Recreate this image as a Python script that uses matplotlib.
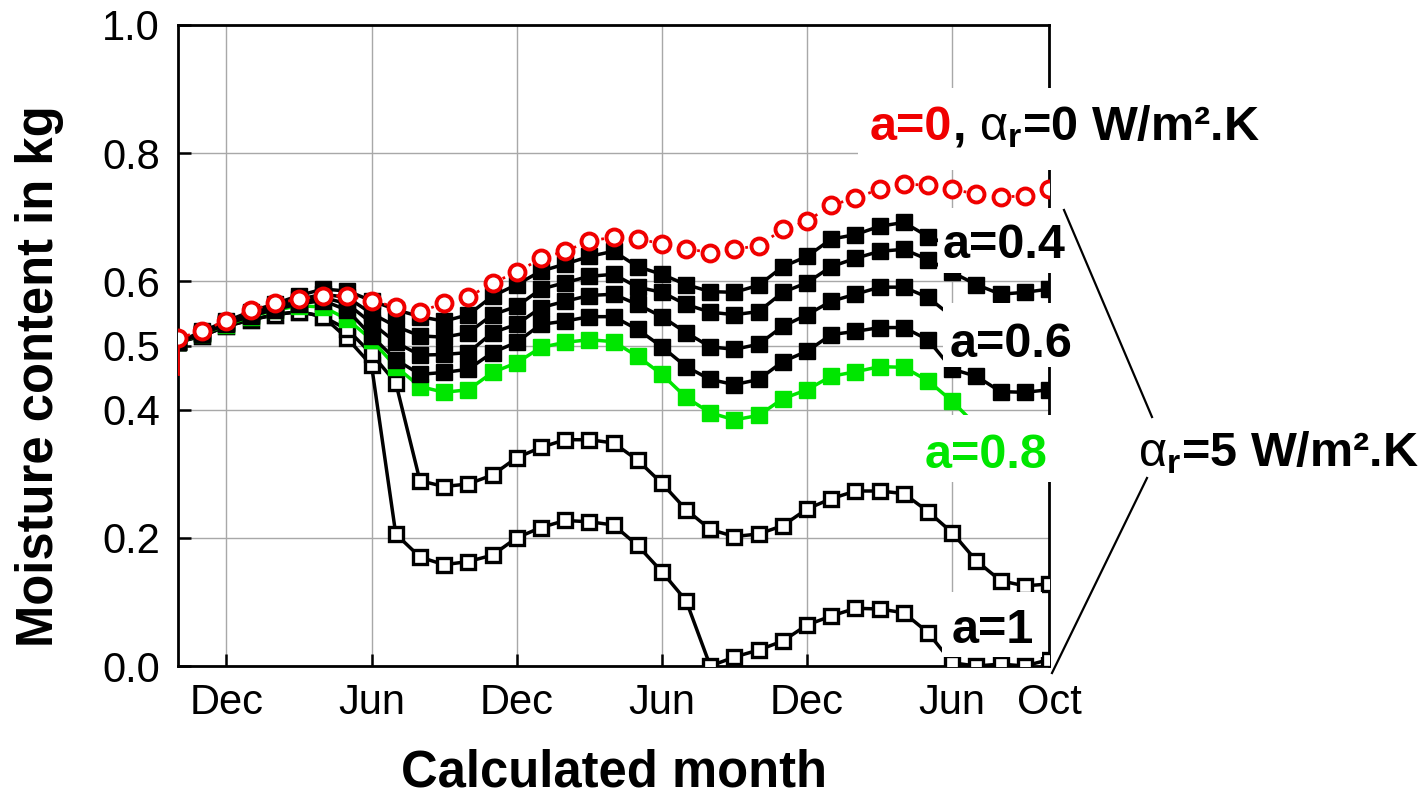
import numpy as np
import matplotlib
matplotlib.use("Agg")
import matplotlib.pyplot as plt
from matplotlib.patches import Rectangle
from matplotlib.lines import Line2D

# ---------------- data ----------------
months = np.arange(37)  # calculated months, starting in October
tick_months = [2, 8, 14, 20, 26, 32, 36]
tick_labels = ["Dec", "Jun", "Dec", "Jun", "Dec", "Jun", "Oct"]
y_ticks = [0.0, 0.2, 0.4, 0.5, 0.6, 0.8, 1.0]

initial_moisture = 0.455

# a=0, alpha_r=0 W/m2.K
red_series = [0.511, 0.523, 0.539, 0.555, 0.566, 0.572, 0.578, 0.577, 0.570, 0.560,
              0.553, 0.566, 0.575, 0.598, 0.614, 0.636, 0.647, 0.663, 0.669, 0.666,
              0.659, 0.651, 0.645, 0.650, 0.656, 0.681, 0.694, 0.719, 0.730, 0.744,
              0.752, 0.750, 0.744, 0.736, 0.731, 0.734, 0.744]

# alpha_r=5 W/m2.K, filled black squares (top to bottom)
filled_1 = [0.505, 0.522, 0.538, 0.553, 0.565, 0.578, 0.588, 0.585, 0.570, 0.556,
            0.545, 0.538, 0.548, 0.577, 0.595, 0.616, 0.627, 0.639, 0.647, 0.623,
            0.611, 0.595, 0.584, 0.583, 0.594, 0.623, 0.639, 0.666, 0.673, 0.686,
            0.692, 0.670, 0.655, 0.640, 0.632, 0.630, 0.635]
filled_2 = [0.505, 0.520, 0.535, 0.550, 0.562, 0.572, 0.580, 0.575, 0.550, 0.530,
            0.515, 0.513, 0.520, 0.548, 0.561, 0.588, 0.598, 0.608, 0.611, 0.591,
            0.583, 0.564, 0.552, 0.548, 0.553, 0.583, 0.598, 0.623, 0.636, 0.647,
            0.650, 0.634, 0.614, 0.595, 0.580, 0.583, 0.588]
filled_3 = [0.505, 0.520, 0.535, 0.548, 0.558, 0.568, 0.575, 0.565, 0.535, 0.505,
            0.485, 0.486, 0.489, 0.520, 0.533, 0.559, 0.569, 0.578, 0.580, 0.564,
            0.545, 0.520, 0.498, 0.494, 0.502, 0.530, 0.548, 0.569, 0.580, 0.591,
            0.591, 0.575, 0.545, 0.520, 0.505, 0.503, 0.508]
filled_4 = [0.505, 0.518, 0.533, 0.546, 0.556, 0.565, 0.570, 0.555, 0.515, 0.478,
            0.455, 0.458, 0.463, 0.489, 0.505, 0.533, 0.538, 0.545, 0.545, 0.525,
            0.498, 0.467, 0.447, 0.439, 0.447, 0.475, 0.491, 0.517, 0.522, 0.528,
            0.528, 0.509, 0.463, 0.452, 0.428, 0.427, 0.431]

# a=0.8 (green)
green_series = [0.505, 0.518, 0.532, 0.545, 0.555, 0.562, 0.560, 0.541, 0.509, 0.467,
                0.436, 0.427, 0.431, 0.458, 0.473, 0.497, 0.505, 0.509, 0.506, 0.483,
                0.455, 0.419, 0.395, 0.384, 0.391, 0.417, 0.431, 0.452, 0.459, 0.467,
                0.466, 0.445, 0.413, 0.375, 0.345, 0.335, 0.335]

# open squares
open_1 = [0.505, 0.515, 0.530, 0.540, 0.548, 0.553, 0.545, 0.525, 0.487, 0.442,
          0.289, 0.280, 0.284, 0.298, 0.325, 0.341, 0.353, 0.353, 0.348, 0.321,
          0.285, 0.244, 0.213, 0.202, 0.206, 0.219, 0.245, 0.261, 0.273, 0.273,
          0.269, 0.241, 0.208, 0.164, 0.133, 0.125, 0.128]
open_2 = [0.505, 0.515, 0.530, 0.540, 0.548, 0.553, 0.545, 0.511, 0.469, 0.206,
          0.170, 0.158, 0.163, 0.173, 0.200, 0.216, 0.227, 0.225, 0.220, 0.188,
          0.147, 0.102, 0.000, 0.014, 0.025, 0.039, 0.064, 0.078, 0.090, 0.089,
          0.083, 0.052, 0.005, 0.000, 0.003, 0.000, 0.010]

# ---------------- style ----------------
plt.rcParams["font.family"] = ["Liberation Sans", "DejaVu Sans"]
plt.rcParams["mathtext.fontset"] = "custom"
plt.rcParams["mathtext.rm"] = "Liberation Sans"
plt.rcParams["mathtext.it"] = "Liberation Sans:italic"
plt.rcParams["mathtext.bf"] = "Liberation Sans:bold"

RED = "#f00000"
GREEN = "#00e600"

W, H = 1427, 795
fig = plt.figure(figsize=(W / 100, H / 100), dpi=100)
ax = fig.add_axes([178 / W, 1 - 666 / H, (1049 - 178) / W, (666 - 25) / H])


def fx(x):
    return x / W


def fy(y):
    return 1 - y / H


# series
ax.plot(months, open_2, color="black", lw=2.5, marker="s", ms=9.5,
        mfc="white", mec="black", mew=2.4, zorder=3)
ax.plot(months, open_1, color="black", lw=2.5, marker="s", ms=9.5,
        mfc="white", mec="black", mew=2.4, zorder=3)
ax.plot(months, green_series, color=GREEN, lw=2.5, marker="s", ms=11,
        mfc=GREEN, mec=GREEN, zorder=3.2)
for s in (filled_4, filled_3, filled_2, filled_1):
    ax.plot(months, s, color="black", lw=2.5, marker="s", ms=11,
            mfc="black", mec="black", zorder=3.4)
ax.plot([0, 0], [initial_moisture, red_series[0]], color=RED, lw=2.0, zorder=3.5)
ax.plot(months, red_series, color=RED, lw=2.0, ls=(0, (1, 2.5)), marker="o",
        ms=11.5, mfc="white", mec=RED, mew=2.8, zorder=3.6)

# axes
ax.set_xlim(0, 36)
ax.set_ylim(0, 1.0)
ax.set_xticks(tick_months)
ax.set_xticklabels(tick_labels)
ax.set_yticks(y_ticks)
ax.set_yticklabels([f"{v:.1f}" for v in y_ticks])
ax.grid(True, color="#a8a8a8", lw=1.0, zorder=0)
ax.set_axisbelow(True)
ax.tick_params(axis="both", direction="in", length=9, width=1.8,
               labelsize=30, top=False, right=False)
ax.tick_params(axis="y", pad=13)
ax.tick_params(axis="x", pad=12)
for sp in ax.spines.values():
    sp.set_linewidth(2.0)

# axis titles
fig.text(fx(40), fy(376), "Moisture content in kg", rotation=90,
         ha="center", va="center", fontsize=36.5, fontweight="bold")
fig.text(fx(614), fy(773), "Calculated month", ha="center", va="center",
         fontsize=36.5, fontweight="bold")


# white label boxes
def white_box(x0, y0, x1, y1):
    fig.add_artist(Rectangle((fx(x0), fy(y1)), fx(x1) - fx(x0), fy(y0) - fy(y1),
                             transform=fig.transFigure, fc="white", ec="none",
                             zorder=5))


white_box(858, 88, 1280, 170)
white_box(938, 208, 1078, 273)
white_box(943, 303, 1078, 367)
white_box(921, 415, 1052, 482)
white_box(942, 592, 1042, 657)

LBL = dict(fontsize=35, fontweight="bold", ha="left", va="baseline", zorder=6)
t_red = fig.text(fx(870), fy(140), "a=0", color=RED, **LBL)
fig.canvas.draw()
x_end = t_red.get_window_extent().x1 / fig.bbox.width
fig.text(x_end, fy(140), r", $\mathrm{\alpha}_{\mathbf{r}}$=0 W/m².K", color="black", **LBL)

fig.text(fx(943), fy(258), "a=0.4", color="black", **LBL)
fig.text(fx(950), fy(357), "a=0.6", color="black", **LBL)
fig.text(fx(925), fy(468), "a=0.8", color=GREEN, **LBL)
fig.text(fx(952), fy(643), "a=1", color="black", **LBL)
fig.text(fx(1138), fy(466), r"$\mathrm{\alpha}_{\mathbf{r}}$=5 W/m².K", color="black", **LBL)

# bracket lines towards the alpha_r=5 label
fig.add_artist(Line2D([fx(1064), fx(1152)], [fy(210), fy(417)],
                      transform=fig.transFigure, color="black", lw=1.6, zorder=6))
fig.add_artist(Line2D([fx(1147), fx(1052)], [fy(478), fy(673)],
                      transform=fig.transFigure, color="black", lw=1.6, zorder=6))

fig.savefig("out.png", dpi=100, facecolor="white")
